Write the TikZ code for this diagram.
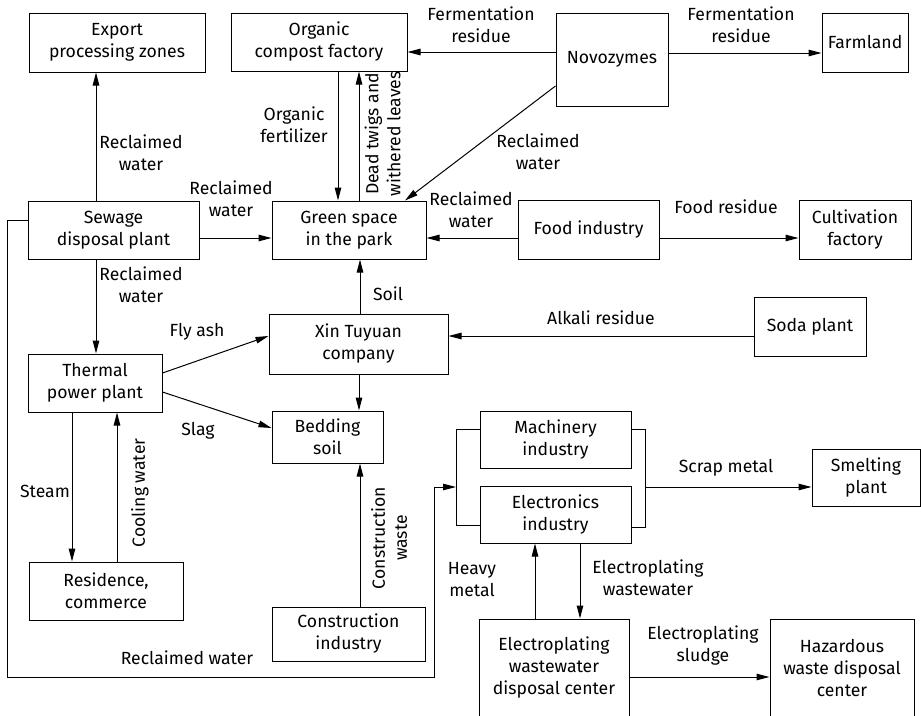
\documentclass[tikz,border=0pt]{standalone}
\usepackage{fontspec}
\setmainfont{Fira Sans}
\usetikzlibrary{arrows.meta}

\begin{document}
\begin{tikzpicture}[
    x=1pt, y=-1pt, line width=1pt, >={Triangle[length=13pt,width=6.5pt]},
    every node/.style={align=center, font=\fontsize{17.6}{22}\selectfont},
    box/.style 2 args={draw, inner sep=0pt, minimum width=#1pt, minimum height=#2pt},
]
\useasboundingbox (0,0) rectangle (921,715);

\node[box={176}{59}] (exp) at (117,42.5) {Export\\processing zones};
\node[box={176}{58}] (comp) at (319,42) {Organic\\compost factory};
\node[box={112}{93}] (novo) at (612,59.5) {Novozymes};
\node[box={86}{59}] (farm) at (865,42.5) {Farmland};
\node[box={171}{58}] (sew) at (113.5,230) {Sewage\\disposal plant};
\node[box={154}{58}] (green) at (349,230) {Green space\\in the park};
\node[box={141}{59}] (food) at (588.5,229.5) {Food industry};
\node[box={112}{59}] (cult) at (855,229.5) {Cultivation\\factory};
\node[box={179}{60}] (xin) at (358.5,344) {Xin Tuyuan\\company};
\node[box={112}{59}] (soda) at (810,326.5) {Soda plant};
\node[box={134}{58}] (therm) at (95,383) {Thermal\\power plant};
\node[box={111}{52}] (bed) at (327.5,437) {Bedding\\soil};
\node[box={154}{58}] (res) at (106,591) {Residence,\\commerce};
\node[box={153}{54}] (cons) at (348.5,634) {Construction\\industry};
\node[box={151}{57}] (mach) at (555.5,439.5) {Machinery\\industry};
\node[box={151}{57}] (elec) at (555.5,514.5) {Electronics\\industry};
\node[box={108}{57}] (smelt) at (866,477.5) {Smelting\\plant};
\node[box={150}{98}] (plate) at (554,668) {Electroplating\\wastewater\\disposal center};
\node[box={144}{98}] (haz) at (842,668) {Hazardous\\waste disposal\\center};

\node (lfr1) at (481,25) {Fermentation\\residue};
\node (lfr2) at (741,25) {Fermentation\\residue};
\node (lrw1) at (538,152) {Reclaimed\\water};
\node (lrw2) at (471,209.5) {Reclaimed\\water};
\node (lfood) at (726,207) {Food residue};
\node (lalk) at (601,318) {Alkali residue};
\node (lorg) at (294,125) {Organic\\fertilizer};
\node[rotate=90] (ldead) at (382.5,134) {Dead twigs and\\withered leaves};
\node (lrw3) at (141,153) {Reclaimed\\water};
\node (lrw4) at (231,199) {Reclaimed\\water};
\node (lrw5) at (141,284.5) {Reclaimed\\water};
\node (lsoil) at (388,294) {Soil};
\node (lfly) at (197,332) {Fly ash};
\node (lslag) at (198,431) {Slag};
\node (lsteam) at (45,491) {Steam};
\node[rotate=90] (lcool) at (140,493) {Cooling water};
\node[rotate=90] (lcons) at (389,538) {Construction\\waste};
\node (lrw6) at (187,658) {Reclaimed water};
\node (lscrap) at (726,468) {Scrap metal};
\node (lheavy) at (472,580) {Heavy\\metal};
\node (lepw) at (648,578) {Electroplating\\wastewater};
\node (leps) at (703,646) {Electroplating\\sludge};

\draw[->] (sew.north -| 96,0) -- (exp.south -| 96,0);
\draw[->] (sew.east |- 0,238) -- (green.west |- 0,238);
\draw[->] (sew.south -| 96,0) -- (therm.north -| 96,0);
\draw[->] (comp.south -| 338,0) -- (green.north -| 338,0);
\draw[->] (green.north -| 359,0) -- (comp.south -| 359,0);
\draw[->] (novo.west |- 0,52) -- (comp.east |- 0,52);
\draw[->] (novo.east |- 0,53) -- (farm.west |- 0,53);
\draw[->] (novo.west |- 0,86) -- (green.north -| 405,0);
\draw[->] (food.west |- 0,238) -- (green.east |- 0,238);
\draw[->] (food.east |- 0,238) -- (cult.west |- 0,238);
\draw[->] (xin.north -| 360,0) -- (green.south -| 360,0);
\draw[->] (soda.west |- 0,336) -- (xin.east |- 0,336);
\draw[->] (therm.east |- 0,373) -- (xin.west |- 0,336);
\draw[->] (therm.east |- 0,392) -- (bed.west |- 0,428);
\draw[->] (xin.south -| 359,0) -- (bed.north -| 359,0);
\draw[->] (cons.north -| 360,0) -- (bed.south -| 360,0);
\draw[->] (therm.south -| 72,0) -- (res.north -| 72,0);
\draw[->] (res.north -| 117,0) -- (therm.south -| 117,0);

\draw (mach.west |- 0,429) -| (456,525) -- (elec.west |- 0,525);
\draw (mach.east |- 0,429) -| (645,527) -- (elec.east |- 0,527);
\coordinate (scrap) at (645,487);
\coordinate (inlet) at (456,487);
\draw[->] (scrap) -- (smelt.west |- scrap);
\draw[->] (sew.west |- 0,220) -| (7,677) -| (434,487) -- (inlet);

\draw[->] (elec.south -| 580,0) -- (plate.north -| 580,0);
\draw[->] (plate.north -| 535,0) -- (elec.south -| 535,0);
\draw[->] (plate.east |- 0,677) -- (haz.west |- 0,677);
\end{tikzpicture}
\end{document}
